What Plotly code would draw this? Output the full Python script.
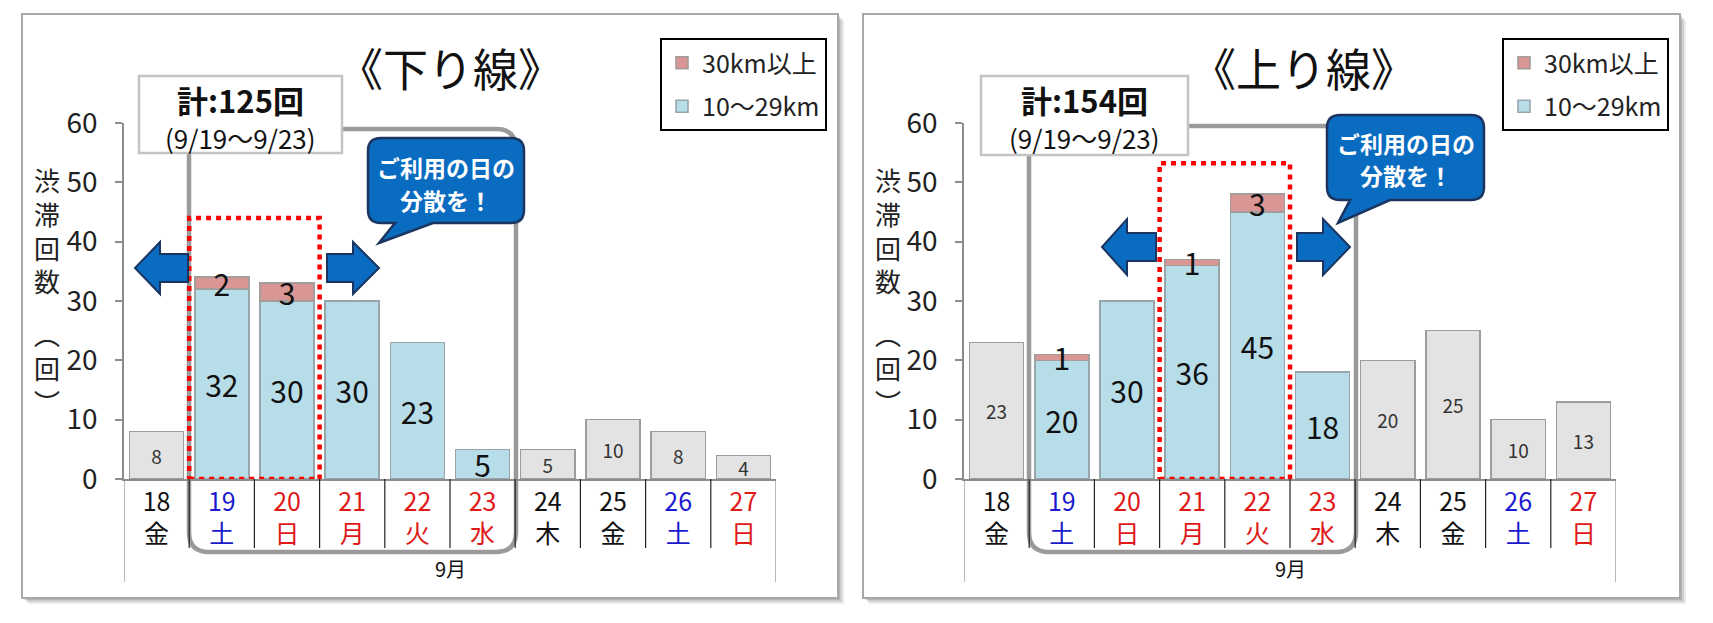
import plotly.graph_objects as go

W, H = 1713, 623
OFF = 8  # page body margin
FW, FH = W - 2 * OFF, H - 2 * OFF
FONT = "Noto Sans CJK JP"

# ---- data ----
days = ["18", "19", "20", "21", "22", "23", "24", "25", "26", "27"]
weekdays = ["金", "土", "日", "月", "火", "水", "木", "金", "土", "日"]
day_colors = ["#111111", "#1a1acc", "#e01818", "#e01818", "#e01818",
              "#e01818", "#111111", "#111111", "#1a1acc", "#e01818"]

down_other = [8, None, None, None, None, None, 5, 10, 8, 4]
down_short = [None, 32, 30, 30, 23, 5, None, None, None, None]
down_long = [None, 2, 3, None, None, None, None, None, None, None]

up_other = [23, None, None, None, None, None, 20, 25, 10, 13]
up_short = [None, 20, 30, 36, 45, 18, None, None, None, None]
up_long = [None, 1, None, 1, 3, None, None, None, None, None]

titles = ["《下り線》", "《上り線》"]
totals = ["計:125回", "計:154回"]
period = "(9/19～9/23)"
names = ["30km以上", "10～29km"]
callout = ["ご利用の日の", "分散を！"]


# positions below are measured in page pixels; convert to paper fractions
def fx(p):
    return (p - OFF) / FW


def fy(p):
    return 1 - (p - OFF) / FH


def pt(x, y):
    return f"{fx(x):.5f},{fy(y):.5f}"


def path(pts):
    return "M " + " L ".join(pt(x, y) for x, y in pts) + " Z"


def rounded(x0, y0, x1, y1, r):
    return (f"M {pt(x0 + r, y0)} L {pt(x1 - r, y0)} Q {pt(x1, y0)} {pt(x1, y0 + r)} "
            f"L {pt(x1, y1 - r)} Q {pt(x1, y1)} {pt(x1 - r, y1)} "
            f"L {pt(x0 + r, y1)} Q {pt(x0, y1)} {pt(x0, y1 - r)} "
            f"L {pt(x0, y0 + r)} Q {pt(x0, y0)} {pt(x0 + r, y0)} Z")


def bubble(x0, y0, x1, y1, r, b0, b1, tip):
    return (f"M {pt(x0 + r, y0)} L {pt(x1 - r, y0)} Q {pt(x1, y0)} {pt(x1, y0 + r)} "
            f"L {pt(x1, y1 - r)} Q {pt(x1, y1)} {pt(x1 - r, y1)} "
            f"L {pt(b1, y1)} L {pt(*tip)} L {pt(b0, y1)} "
            f"L {pt(x0 + r, y1)} Q {pt(x0, y1)} {pt(x0, y1 - r)} "
            f"L {pt(x0, y0 + r)} Q {pt(x0, y0)} {pt(x0 + r, y0)} Z")


def arrow(tx, ty, hb, hh, sh, se):
    return path([(tx, ty), (hb, ty - hh), (hb, ty - sh), (se, ty - sh),
                 (se, ty + sh), (hb, ty + sh), (hb, ty + hh)])


def label(x, y, text, size, color="#111111"):
    return dict(xref="paper", yref="paper", x=fx(x), y=fy(y), xanchor="center",
                yanchor="middle", showarrow=False, text=text,
                font=dict(size=size, color=color))


ticktext = [f"<span style='color:{c}'>{d}</span><br><span style='color:{c}'>{w}</span>"
            for d, w, c in zip(days, weekdays, day_colors)]

fig = go.Figure()

panels = [
    dict(other=down_other, short=down_short, long=down_long, xa="x", ya="y", lg="legend"),
    dict(other=up_other, short=up_short, long=up_long, xa="x2", ya="y2", lg="legend2"),
]
for pn in panels:
    fig.add_trace(go.Bar(
        x=days, y=pn["other"], xaxis=pn["xa"], yaxis=pn["ya"], showlegend=False,
        marker=dict(color="#e3e3e3", line=dict(color="#9c9c9c", width=1.5)),
        texttemplate="%{y}", textposition="inside", insidetextanchor="middle",
        textangle=0, constraintext="none", textfont=dict(size=19, color="#333333"),
        legend=pn["lg"]))
    fig.add_trace(go.Bar(
        x=days, y=pn["short"], xaxis=pn["xa"], yaxis=pn["ya"], name=names[1],
        legendgroup=pn["lg"] + "short", legendrank=2,
        marker=dict(color="#b7dde8", line=dict(color="#98a6ab", width=1.6)),
        texttemplate="%{y}", textposition="inside", insidetextanchor="middle",
        textangle=0, constraintext="none", textfont=dict(size=30, color="#111111"),
        legend=pn["lg"]))
    fig.add_trace(go.Bar(
        x=days, y=pn["long"], xaxis=pn["xa"], yaxis=pn["ya"], name=names[0],
        legendgroup=pn["lg"] + "long", legendrank=1,
        marker=dict(color="#d99694", line=dict(color="#a59c9c", width=1.6)),
        texttemplate="%{y}", textposition="inside", insidetextanchor="middle",
        textangle=0, constraintext="none", textfont=dict(size=30, color="#111111"),
        legend=pn["lg"]))

xaxis_style = dict(type="category", showline=True, linecolor="#8c8c8c", linewidth=1.5,
                   ticks="", showgrid=False, tickvals=days, ticktext=ticktext,
                   tickfont=dict(size=25), range=[-0.5, 9.5], automargin=False)
yaxis_style = dict(range=[0, 60], tickvals=list(range(0, 61, 10)), ticks="outside",
                   ticklen=7, tickwidth=1.5, tickcolor="#8c8c8c", showline=True,
                   linecolor="#8c8c8c", linewidth=1.5, showgrid=False, zeroline=False,
                   tickfont=dict(size=28, color="#222222"), ticklabelstandoff=12,
                   domain=[fy(479), fy(123)], automargin=False)

shapes = []
annotations = []

# panel frames with drop shadow
for x0, x1 in [(22, 838), (863, 1680)]:
    for d, a in [(6, 0.08), (4, 0.12), (2, 0.12)]:
        shapes.append(dict(type="rect", xref="paper", yref="paper", layer="below",
                           x0=fx(x0 + d), x1=fx(x1 + d), y0=fy(598 + d), y1=fy(14 + d),
                           fillcolor=f"rgba(0,0,0,{a})", line=dict(width=0)))
    shapes.append(dict(type="rect", xref="paper", yref="paper", layer="below",
                       x0=fx(x0), x1=fx(x1), y0=fy(598), y1=fy(14),
                       fillcolor="white", line=dict(color="#a8a8a8", width=2)))

cfg = [
    dict(ax0=124, ax1=776, xa="x", rect=(189, 129, 516, 552), box=(139, 76, 342, 153),
         red=(0.5, 2.5, 44), title_x=450, ytitle_x=47,
         arrows=[(135, 268, 160, 26, 14, 188), (379, 268, 353, 26, 14, 327)],
         bub=(368, 138, 524, 223, 13, 395, 433, (379, 243)), bub_text=(446, 167, 200)),
    dict(ax0=964, ax1=1616, xa="x2", rect=(1029, 126, 1356, 552), box=(981, 76, 1188, 155),
         red=(2.5, 4.5, 53.2), title_x=1303, ytitle_x=888,
         arrows=[(1102, 247, 1127, 28, 14, 1156), (1350, 247, 1323, 28, 14, 1297)],
         bub=(1327, 115, 1484, 200, 13, 1350, 1390, (1338, 223)), bub_text=(1406, 143, 175)),
]

for i, c in enumerate(cfg):
    # grey bracket around the 5-day period
    shapes.append(dict(type="path", xref="paper", yref="paper", layer="below",
                       path=rounded(*c["rect"], 20), line=dict(color="#9a9a9a", width=4.5)))
    # category separators
    for k in range(11):
        outer = k in (0, 10)
        shapes.append(dict(type="line", xref=c["xa"], yref="paper", x0=k - 0.5, x1=k - 0.5,
                           y0=fy(479), y1=fy(582 if outer else 548),
                           line=dict(color="#8c8c8c" if outer else "#222222", width=1.2)))
    # total box
    bx0, by0, bx1, by1 = c["box"]
    shapes.append(dict(type="rect", xref="paper", yref="paper", x0=fx(bx0), x1=fx(bx1),
                       y0=fy(by1), y1=fy(by0), fillcolor="white",
                       line=dict(color="#c4c4c4", width=2.5)))
    cx = (bx0 + bx1) / 2
    annotations.append(label(cx, 99, f"<b>{totals[i]}</b>", 31))
    annotations.append(label(cx, 137, period, 26))
    # red dotted highlight
    r0, r1, rtop = c["red"]
    shapes.append(dict(type="rect", xref=c["xa"], yref="y" if i == 0 else "y2",
                       x0=r0, x1=r1, y0=0, y1=rtop,
                       line=dict(color="#ff0000", width=4.5, dash="5px,5px")))
    # blue arrows
    for a in c["arrows"]:
        shapes.append(dict(type="path", xref="paper", yref="paper", path=arrow(*a),
                           fillcolor="#0a6cc0", line=dict(color="#1b3560", width=2)))
    # speech bubble
    shapes.append(dict(type="path", xref="paper", yref="paper", path=bubble(*c["bub"]),
                       fillcolor="#0a6cc0", line=dict(color="#1b3560", width=2.5)))
    tx, ty1, ty2 = c["bub_text"]
    for line_text, ty in zip(callout, (ty1, ty2)):
        annotations.append(label(tx, ty, f"<b>{line_text}</b>", 23, "white"))
    # title
    annotations.append(label(c["title_x"], 68, titles[i], 45))
    # y axis title (vertical)
    annotations.append(label(c["ytitle_x"], 230, "渋<br>滞<br>回<br>数", 26, "#222222"))
    annotations.append(label(c["ytitle_x"], 367, "︵<br>回<br>︶", 26, "#222222"))
    # month label
    annotations.append(label((c["ax0"] + c["ax1"]) / 2, 568, "9月", 20))

legend_style = dict(yanchor="top", xanchor="left", y=fy(38), bgcolor="white",
                    bordercolor="#000000", borderwidth=2, traceorder="grouped",
                    font=dict(size=25, color="#222222"), tracegroupgap=8, itemwidth=30)

fig.update_layout(
    width=FW, height=FH, margin=dict(l=0, r=0, t=0, b=0, autoexpand=False),
    paper_bgcolor="white", plot_bgcolor="rgba(0,0,0,0)",
    font=dict(family=FONT, color="#111111"),
    barmode="stack", bargap=0.17,
    xaxis=dict(xaxis_style, domain=[fx(124), fx(776)], anchor="y"),
    yaxis=dict(yaxis_style, anchor="x"),
    xaxis2=dict(xaxis_style, domain=[fx(964), fx(1616)], anchor="y2"),
    yaxis2=dict(yaxis_style, anchor="x2"),
    legend=dict(legend_style, x=fx(660)),
    legend2=dict(legend_style, x=fx(1502)),
    shapes=shapes, annotations=annotations,
)

fig.write_html("out.html")
